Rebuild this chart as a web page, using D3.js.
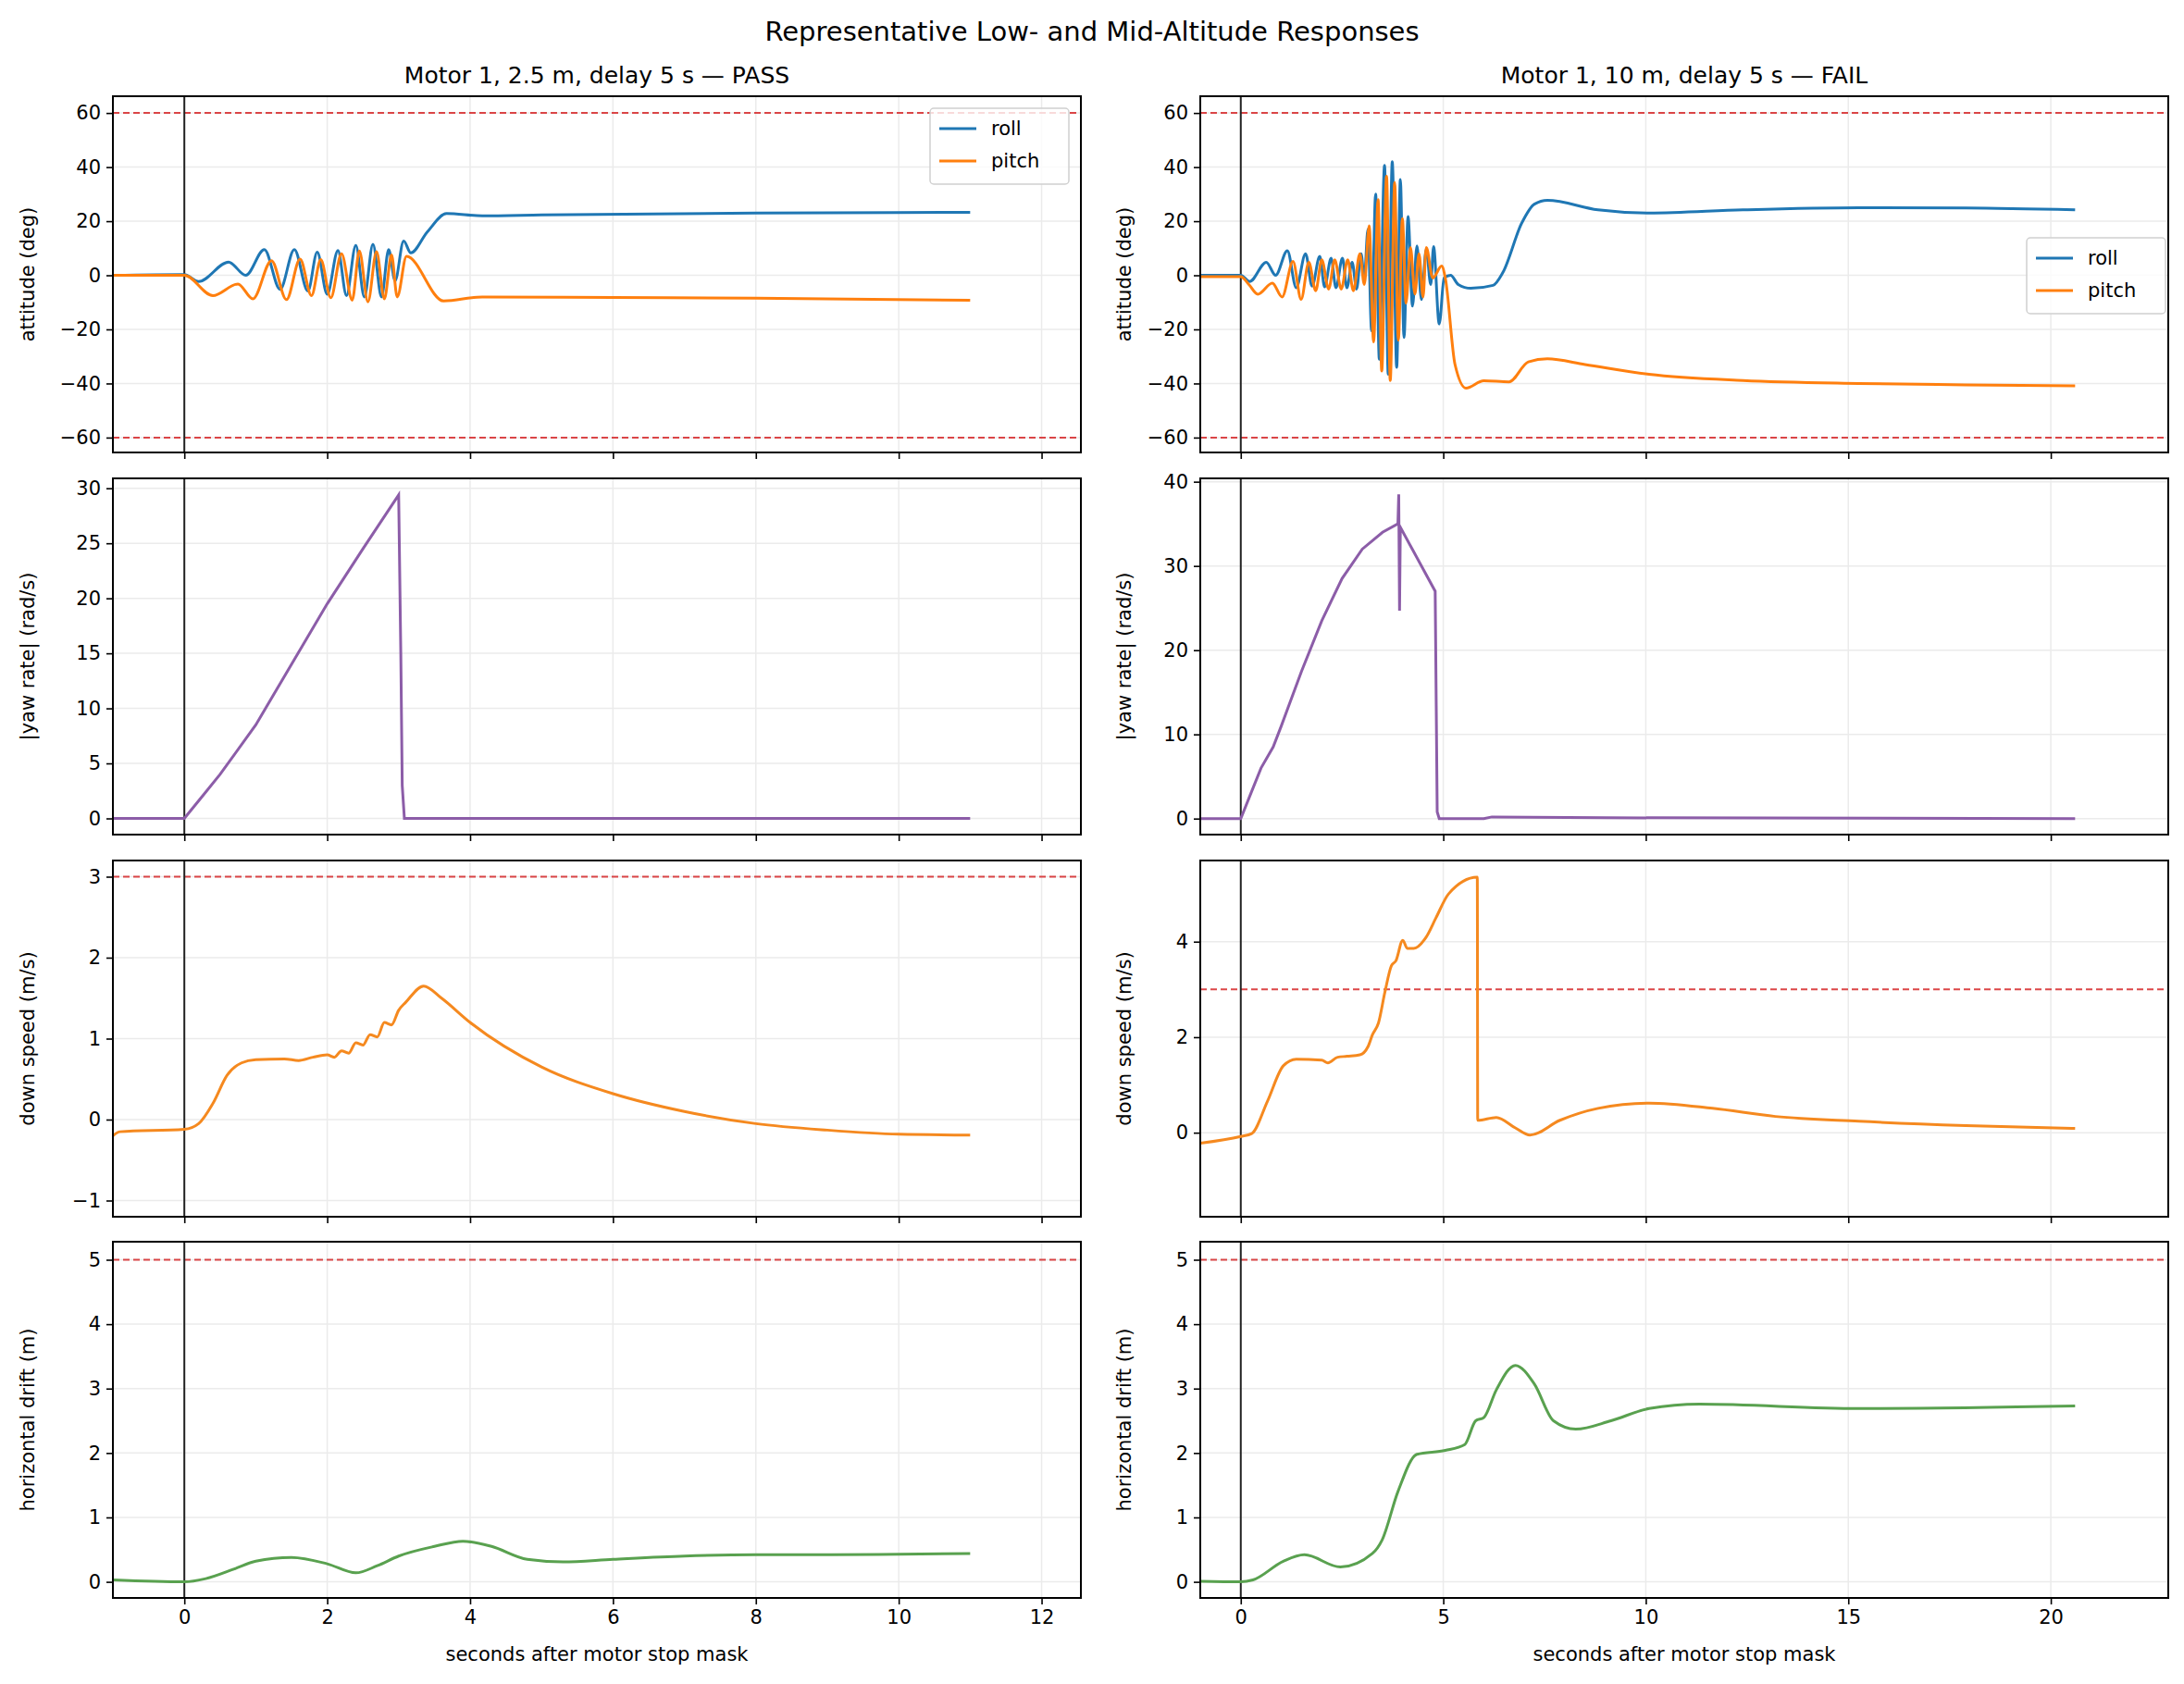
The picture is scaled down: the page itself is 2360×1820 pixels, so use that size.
<!DOCTYPE html>
<html><head><meta charset="utf-8">
<script src="https://cdn.jsdelivr.net/npm/d3@7"></script>
<style>body{margin:0;background:#fff}text{font-family:"DejaVu Sans",sans-serif}</style>
</head><body><svg id="c" width="2360" height="1820"></svg>
<script>
// ---------- data ----------
const rollL=[[-1,0],[0,0.3],[0.2,-2.3],[0.62,4.9],[0.86,0],[1.12,9.5],[1.34,-5.2],[1.54,9.5],[1.73,-5.8],[1.86,8.6],[2.0,-7],[2.15,9.2],[2.27,-7.5],[2.4,11],[2.52,-8],[2.64,11.5],[2.76,-8],[2.86,9.5],[2.95,-2],[3.07,12.7],[3.17,8.3],[3.4,16],[3.67,22.8],[4.17,22],[5,22.3],[8,23],[11,23.3]];
const pitchL=[[-1,0],[0,0],[0.4,-7.5],[0.75,-3.2],[0.96,-8.7],[1.22,5.4],[1.43,-9],[1.62,6],[1.78,-7.5],[1.91,5.8],[2.05,-8.3],[2.2,8],[2.35,-9.2],[2.45,9],[2.57,-9.8],[2.69,8.7],[2.8,-8.7],[2.9,7.5],[2.98,-8],[3.11,7],[3.63,-9.5],[4.17,-8],[6,-8.2],[8,-8.5],[11,-9.2]];
const rollR=[[-1,0],[0,0],[0.22,-2.3],[0.63,4.8],[0.86,0],[1.15,9.1],[1.37,-4.6],[1.6,8],[1.76,-4],[1.95,7],[2.07,-4.3],[2.23,6.3],[2.35,-4.6],[2.51,6.3],[2.62,-4.6],[2.75,4.8],[2.86,-5.1],[2.97,8],[3.05,-1],[3.14,17],[3.23,-20.6],[3.33,30],[3.42,-31],[3.55,40.6],[3.64,-36.6],[3.74,42],[3.85,-34],[3.94,35.4],[4.03,-23],[4.13,21.7],[4.24,-11.4],[4.35,10.9],[4.46,-9],[4.58,9.7],[4.69,-3.4],[4.76,10.6],[4.9,-18],[5.02,-1],[5.18,0],[5.37,-3.4],[5.68,-4.8],[6.23,-3.7],[6.47,1],[6.94,19.4],[7.25,26.3],[7.57,27.7],[8.82,24.2],[10.08,23],[12.4,24.2],[15.26,25],[17.9,24.9],[20.6,24.2]];
const pitchR=[[-1,-0.5],[0,-0.5],[0.2,-3.4],[0.42,-7],[0.78,-2.9],[1.02,-8],[1.29,5.1],[1.49,-8.9],[1.68,4.8],[1.85,-5.7],[2.0,5.7],[2.17,-5.1],[2.32,5.7],[2.48,-5.1],[2.64,5.7],[2.78,-5.7],[2.94,8],[3.05,-3.4],[3.17,18.3],[3.28,-24.6],[3.39,28],[3.48,-35.4],[3.6,36.6],[3.69,-38.9],[3.8,34.3],[3.89,-24],[3.99,21],[4.08,-10.3],[4.19,10.3],[4.3,-6.9],[4.4,8],[4.5,-8],[4.58,10.3],[4.74,-1],[4.96,3.4],[5.05,-1],[5.29,-33],[5.56,-41.7],[6.0,-39],[6.62,-39.4],[7.1,-32],[7.57,-30.9],[8.5,-33],[10.08,-36.6],[12.4,-38.9],[15.26,-40],[17.9,-40.5],[20.6,-40.9]];
const yawL=[[-1,0],[0,0],[0.25,2],[0.5,4],[1,8.5],[1.5,14],[2,19.5],[2.5,24.5],[3.0,29.4],[3.03,15],[3.05,3],[3.08,0],[11,0]];
const yawR=[[-1,0],[0,0],[0.25,3],[0.5,6],[0.8,8.5],[1,11],[1.5,17.5],[2,23.5],[2.5,28.5],[3,32],[3.5,34],[3.88,35],[3.9,38.5],[3.92,24.7],[3.94,34.6],[4.8,27],[4.85,0.8],[4.9,0],[6,0],[6.2,0.2],[9,0.1],[20.6,0]];
const downL=[[-1,-0.2],[-0.9,-0.15],[0,-0.12],[0.2,-0.05],[0.4,0.2],[0.6,0.55],[0.8,0.7],[1,0.74],[1.4,0.75],[1.6,0.73],[1.8,0.77],[2,0.8],[2.1,0.77],[2.2,0.85],[2.3,0.82],[2.4,0.95],[2.5,0.92],[2.6,1.05],[2.7,1.02],[2.8,1.2],[2.9,1.17],[3.0,1.35],[3.1,1.45],[3.35,1.65],[3.6,1.5],[4.0,1.2],[5,0.65],[6,0.32],[7,0.1],[8,-0.05],[9,-0.13],[10,-0.18],[11,-0.19]];
const downR=[[-1,-0.22],[0,-0.08],[0.27,-0.02],[0.66,0.66],[1.05,1.4],[1.37,1.54],[2.0,1.52],[2.15,1.46],[2.39,1.58],[2.62,1.6],[2.94,1.63],[3.14,1.8],[3.25,2.05],[3.4,2.3],[3.56,2.95],[3.72,3.5],[3.83,3.6],[4.0,4.03],[4.11,3.86],[4.27,3.86],[4.58,4.1],[4.82,4.5],[5.13,5.0],[5.84,5.35],[5.85,0.26],[6.31,0.32],[6.78,0.1],[7.14,-0.05],[7.88,0.26],[8.82,0.51],[10.08,0.62],[11.65,0.51],[13.2,0.34],[15.26,0.24],[17.9,0.15],[20.6,0.09]];
const driftL=[[-1,0.03],[0,0.0],[0.3,0.05],[0.7,0.2],[1,0.32],[1.5,0.38],[2,0.28],[2.4,0.14],[2.7,0.25],[3,0.4],[3.5,0.55],[3.9,0.63],[4.3,0.55],[4.8,0.35],[5.3,0.31],[6,0.35],[7,0.4],[8,0.42],[9,0.42],[10,0.43],[11,0.44]];
const driftR=[[-1,0.01],[0,0.0],[0.3,0.03],[1.05,0.32],[1.57,0.42],[2.46,0.23],[3.25,0.44],[3.49,0.65],[3.88,1.4],[4.35,1.98],[5.05,2.04],[5.53,2.13],[5.8,2.5],[6.0,2.55],[6.31,2.98],[6.78,3.36],[7.25,3.07],[7.72,2.5],[8.27,2.37],[9.14,2.5],[10.08,2.69],[11.33,2.76],[15.26,2.69],[20.6,2.73]];
const titles=["Motor 1, 2.5 m, delay 5 s — PASS","Motor 1, 10 m, delay 5 s — FAIL"];
const yLabels=["attitude (deg)","|yaw rate| (rad/s)","down speed (m/s)","horizontal drift (m)"];
const xTicksL=[0,2,4,6,8,10,12], xTicksR=[0,5,10,15,20];
const yTicks=[[-60,-40,-20,0,20,40,60],[[0,5,10,15,20,25,30],[0,10,20,30,40]],[[-1,0,1,2,3],[0,2,4]],[0,1,2,3,4,5]];
const limits=[[60,-60],[],[3],[5]];

// ---------- layout ----------
const svg=d3.select("#c");
const cols=[{x0:122,x1:1168,dom:[-1,12.55],ticks:xTicksL,ylabX:22},{x0:1297,x1:2343,dom:[-1,22.9],ticks:xTicksR,ylabX:1207}];
const rowTop=[104,517,930,1342], rowH=385;
const yDoms=[[[-65.5,66.2],[-65.5,66.2]],[[-1.47,30.9],[-1.9,40.4]],[[-1.2,3.2],[-1.76,5.7]],[[-0.25,5.28],[-0.25,5.28]]];
const series=[[[{d:rollL,c:"#1f77b4",n:"roll"},{d:pitchL,c:"#ff7f0e",n:"pitch"}],[{d:rollR,c:"#1f77b4",n:"roll"},{d:pitchR,c:"#ff7f0e",n:"pitch"}]],
 [[{d:yawL,c:"#8c5da8",lin:true}],[{d:yawR,c:"#8c5da8",lin:true}]],
 [[{d:downL,c:"#f5891f"}],[{d:downR,c:"#f5891f"}]],
 [[{d:driftL,c:"#59a14f"}],[{d:driftR,c:"#59a14f"}]]];

svg.append("text").attr("x",1180).attr("y",44).attr("text-anchor","middle").attr("font-size",29).text("Representative Low- and Mid-Altitude Responses");

for(let r=0;r<4;r++)for(let c=0;c<2;c++){
  const col=cols[c];
  const x=d3.scaleLinear().domain(col.dom).range([col.x0,col.x1]);
  const y=d3.scaleLinear().domain(yDoms[r][c]).range([rowTop[r]+rowH,rowTop[r]]);
  const g=svg.append("g");
  const yt=Array.isArray(yTicks[r][0])?yTicks[r][c]:yTicks[r];
  const cid="clip"+r+c;
  svg.append("clipPath").attr("id",cid).append("rect").attr("x",col.x0).attr("y",rowTop[r]).attr("width",col.x1-col.x0).attr("height",rowH);
  const inner=g.append("g").attr("clip-path",`url(#${cid})`);
  inner.selectAll(".gx").data(col.ticks).join("line").attr("x1",d=>x(d)).attr("x2",d=>x(d)).attr("y1",rowTop[r]).attr("y2",rowTop[r]+rowH).attr("stroke","#ebebeb").attr("stroke-width",1.5);
  inner.selectAll(".gy").data(yt).join("line").attr("y1",d=>y(d)).attr("y2",d=>y(d)).attr("x1",col.x0).attr("x2",col.x1).attr("stroke","#ebebeb").attr("stroke-width",1.5);
  inner.selectAll(".lim").data(limits[r]).join("line").attr("y1",d=>y(d)).attr("y2",d=>y(d)).attr("x1",col.x0).attr("x2",col.x1).attr("stroke","#d62728").attr("stroke-opacity",0.85).attr("stroke-width",2).attr("stroke-dasharray","7,4");
  inner.append("line").attr("x1",x(0)).attr("x2",x(0)).attr("y1",rowTop[r]).attr("y2",rowTop[r]+rowH).attr("stroke","#222").attr("stroke-width",2);
  series[r][c].forEach(s=>{
    const line=d3.line().x(d=>x(d[0])).y(d=>y(d[1])).curve(s.lin?d3.curveLinear:d3.curveMonotoneX);
    inner.append("path").attr("d",line(s.d)).attr("fill","none").attr("stroke",s.c).attr("stroke-width",3);
  });
  const ax=g.append("g").attr("transform",`translate(0,${rowTop[r]+rowH})`).call(d3.axisBottom(x).tickValues(col.ticks).tickSize(7).tickPadding(6).tickFormat(r===3?d3.format("d"):()=>""));
  const ay=g.append("g").attr("transform",`translate(${col.x0},0)`).call(d3.axisLeft(y).tickValues(yt).tickSize(7).tickPadding(6).tickFormat(d=>d<0?"−"+Math.abs(d):d));
  [ax,ay].forEach(a=>{a.select(".domain").remove();a.selectAll("text").attr("font-size",21).attr("fill","#000").attr("font-family","DejaVu Sans");a.selectAll("line").attr("stroke","#000").attr("stroke-width",1.6);});
  g.append("rect").attr("x",col.x0).attr("y",rowTop[r]).attr("width",col.x1-col.x0).attr("height",rowH).attr("fill","none").attr("stroke","#000").attr("stroke-width",2);
  g.append("text").attr("transform",`translate(${col.ylabX},${rowTop[r]+rowH/2}) rotate(-90)`).attr("text-anchor","middle").attr("font-size",21).attr("dy","0.7em").text(yLabels[r]);
  if(r===0) g.append("text").attr("x",(col.x0+col.x1)/2).attr("y",rowTop[r]-14).attr("text-anchor","middle").attr("font-size",25).text(titles[c]);
  if(r===3) g.append("text").attr("x",(col.x0+col.x1)/2).attr("y",1795).attr("text-anchor","middle").attr("font-size",21).text("seconds after motor stop mask");
  if(r===0){
    const lx=c===0?1005:2190, ly=c===0?117:257;
    const lg=g.append("g").attr("transform",`translate(${lx},${ly})`);
    lg.append("rect").attr("width",150).attr("height",82).attr("rx",4).attr("fill","#fff").attr("fill-opacity",0.8).attr("stroke","#d0d0d0").attr("stroke-width",1.5);
    series[0][c].forEach((s,i)=>{
      lg.append("line").attr("x1",10).attr("x2",50).attr("y1",22+i*35).attr("y2",22+i*35).attr("stroke",s.c).attr("stroke-width",3);
      lg.append("text").attr("x",66).attr("y",29+i*35).attr("font-size",21).text(s.n);
    });
  }
}
</script></body></html>
